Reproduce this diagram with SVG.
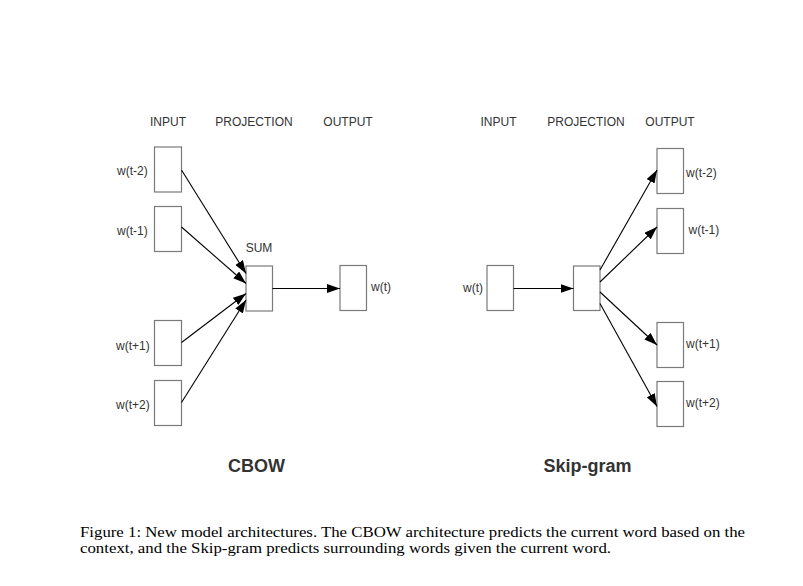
<svg xmlns="http://www.w3.org/2000/svg" width="803" height="586" viewBox="0 0 803 586">
<style>
.box{fill:#fff;stroke:#7a7a7a;stroke-width:1.2}
.lbl{font-family:"Liberation Sans",Arial,sans-serif;font-size:12px;fill:#333}
.hdr{font-family:"Liberation Sans",Arial,sans-serif;font-size:12px;fill:#333;text-anchor:middle}
.title{font-family:"Liberation Sans",Arial,sans-serif;font-size:18px;font-weight:bold;fill:#333;text-anchor:middle}
.cap{font-family:"Liberation Serif","Times New Roman",serif;font-size:15.5px;fill:#000}
.edge{stroke:#000;stroke-width:1.1;fill:none;marker-end:url(#arr)}
</style>
<defs>
<marker id="arr" markerWidth="13" markerHeight="9" refX="13" refY="4.5" orient="auto" markerUnits="userSpaceOnUse">
<path d="M0,0 L13,4.5 L0,9 Z" fill="#000"/>
</marker>
</defs>
<rect width="803" height="586" fill="#fff"/>

<g id="cbow-headers">
<text class="hdr" x="168" y="126">INPUT</text>
<text class="hdr" x="254" y="126">PROJECTION</text>
<text class="hdr" x="348" y="126">OUTPUT</text>
</g>
<g id="cbow-in-tm2"><rect class="box" x="154.5" y="147" width="27" height="45"/><text class="lbl" x="117" y="175">w(t-2)</text></g>
<g id="cbow-in-tm1"><rect class="box" x="154.5" y="206.5" width="27" height="45"/><text class="lbl" x="117" y="235">w(t-1)</text></g>
<g id="cbow-in-tp1"><rect class="box" x="154.5" y="320.5" width="27" height="45"/><text class="lbl" x="116" y="350">w(t+1)</text></g>
<g id="cbow-in-tp2"><rect class="box" x="154.5" y="380.5" width="27" height="45"/><text class="lbl" x="116" y="409">w(t+2)</text></g>
<g id="cbow-sum"><rect class="box" x="246" y="266" width="26.5" height="45"/><text class="hdr" x="259" y="252">SUM</text></g>
<g id="cbow-out"><rect class="box" x="340" y="265.5" width="26.5" height="45"/><text class="lbl" x="371" y="291">w(t)</text></g>

<g id="sg-headers">
<text class="hdr" x="498.5" y="126">INPUT</text>
<text class="hdr" x="586" y="126">PROJECTION</text>
<text class="hdr" x="670" y="126">OUTPUT</text>
</g>
<g id="sg-in"><rect class="box" x="487" y="265.5" width="26.5" height="45"/><text class="lbl" x="463" y="292">w(t)</text></g>
<g id="sg-proj"><rect class="box" x="573.5" y="266" width="26.5" height="44.5"/></g>
<g id="sg-out-tm2"><rect class="box" x="657" y="148.5" width="26.5" height="45"/><text class="lbl" x="686" y="177">w(t-2)</text></g>
<g id="sg-out-tm1"><rect class="box" x="657" y="208.5" width="26.5" height="45"/><text class="lbl" x="688.5" y="234">w(t-1)</text></g>
<g id="sg-out-tp1"><rect class="box" x="657" y="322.5" width="26.5" height="45"/><text class="lbl" x="686" y="348">w(t+1)</text></g>
<g id="sg-out-tp2"><rect class="box" x="657" y="381.5" width="26.5" height="45"/><text class="lbl" x="686" y="407">w(t+2)</text></g>

<g id="connectors">
<line class="edge" x1="181.5" y1="170" x2="246" y2="273.5"/>
<line class="edge" x1="181.5" y1="227" x2="246" y2="283.5"/>
<line class="edge" x1="181.5" y1="342.5" x2="246" y2="293.5"/>
<line class="edge" x1="181.5" y1="402.5" x2="246" y2="300"/>
<line class="edge" x1="272.5" y1="288.5" x2="340" y2="288.5"/>
<line class="edge" x1="513.5" y1="288.5" x2="573.5" y2="288.5"/>
<line class="edge" x1="600" y1="270" x2="657" y2="170"/>
<line class="edge" x1="600" y1="282" x2="657" y2="227"/>
<line class="edge" x1="600" y1="292" x2="657" y2="345"/>
<line class="edge" x1="600" y1="303.5" x2="657" y2="406.5"/>
</g>

<g id="titles">
<text class="title" x="256.5" y="472">CBOW</text>
<text class="title" x="587.5" y="472">Skip-gram</text>
</g>
<g id="caption">
<text class="cap" x="80" y="537" textLength="665" lengthAdjust="spacingAndGlyphs">Figure 1: New model architectures. The CBOW architecture predicts the current word based on the</text>
<text class="cap" x="80" y="553" textLength="531" lengthAdjust="spacingAndGlyphs">context, and the Skip-gram predicts surrounding words given the current word.</text>
</g>
</svg>
